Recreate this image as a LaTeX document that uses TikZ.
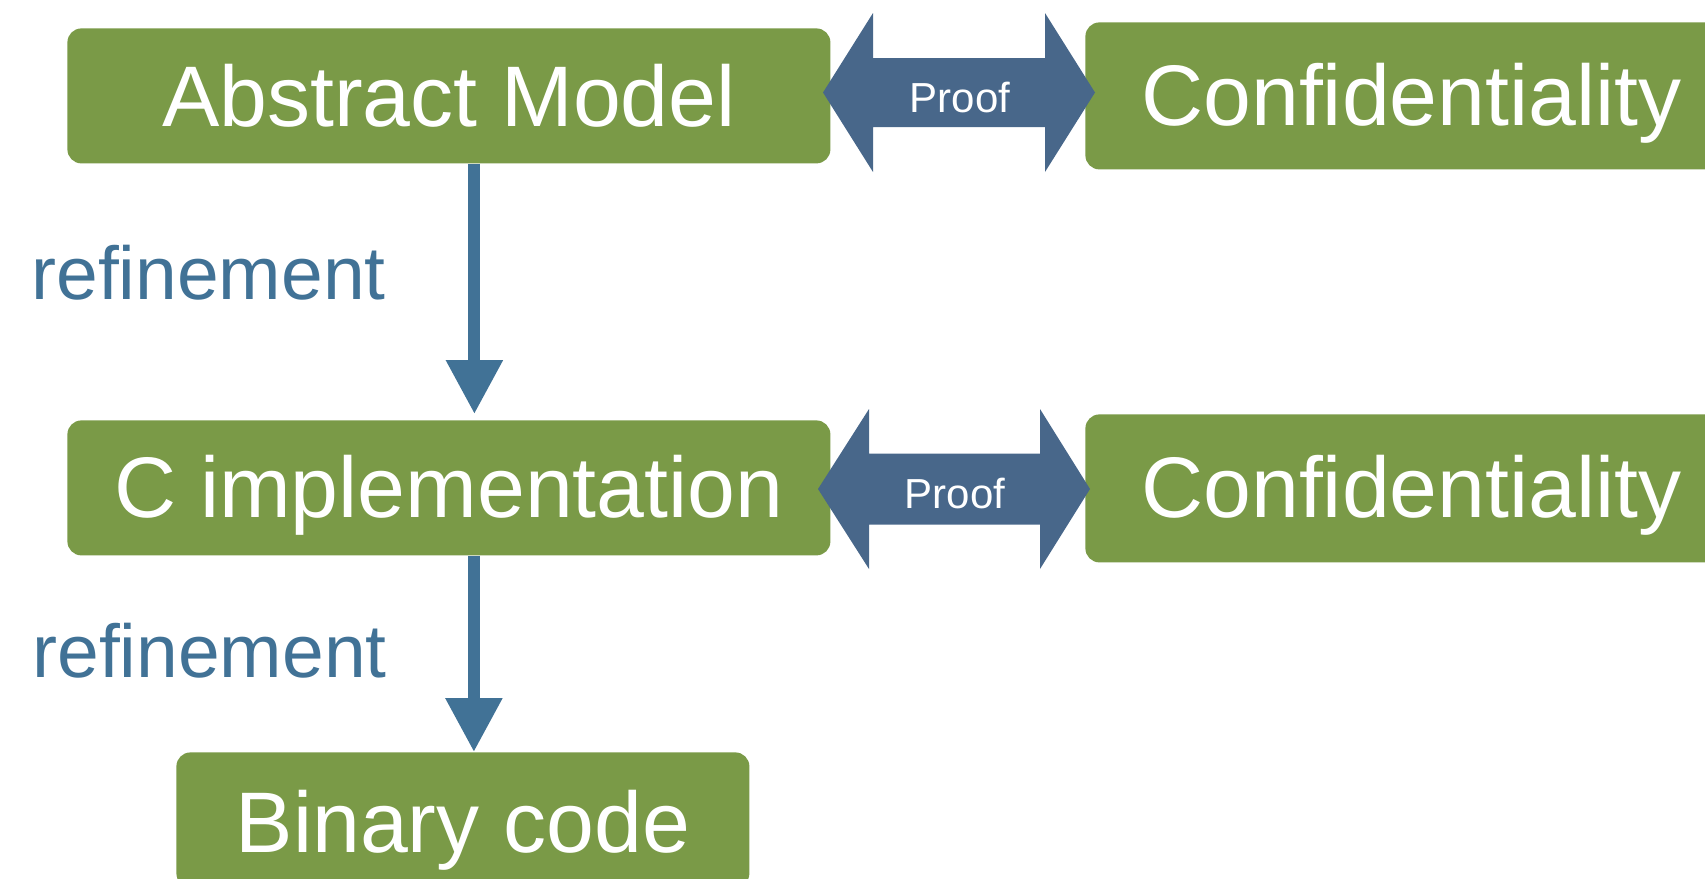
\documentclass[tikz,border=0pt]{standalone}
\usepackage{fontspec}
\setmainfont{Liberation Sans}
\usepackage{tikz}
\usetikzlibrary{calc}
\usetikzlibrary{arrows.meta}
\usetikzlibrary{positioning}

\definecolor{boxgreen}{RGB}{122,154,71}
\definecolor{proofblue}{RGB}{72,103,138}
\definecolor{refineblue}{RGB}{65,114,150}

\tikzstyle{block} = [rectangle, fill=boxgreen, text=white, rounded corners=7pt,
    inner sep=0pt, anchor=north west, font=\fontsize{43pt}{50pt}\selectfont]
\tikzstyle{refine} = [draw=refineblue, line width=6pt,
    -{Triangle[length=27pt,width=27pt]}]
\tikzstyle{reflabel} = [text=refineblue, inner sep=0pt, anchor=base west,
    font=\fontsize{37.5pt}{42pt}\selectfont]
\tikzstyle{prooflabel} = [text=white, inner sep=0pt, anchor=base,
    font=\fontsize{21pt}{25pt}\selectfont]

\begin{document}
\begin{tikzpicture}[x=0.5pt,y=-0.5pt]
    \useasboundingbox (0,0) rectangle (1705,879);

    \node[block, minimum width=381.5pt, text height=49pt, text depth=18.5pt] (model) at (67,28) {Abstract Model};
    \node[block, minimum width=381.5pt, text height=48.5pt, text depth=19pt] (cimpl) at (67,420) {C implementation};
    \node[block, minimum width=286.5pt, text height=50pt, text depth=17.5pt] (binary) at (176,752) {Binary code};

    \node[block, minimum width=326pt, text height=51.5pt, text depth=22pt] (conf1) at (1085,22) {Confidentiality};
    \node[block, minimum width=326pt, text height=51.5pt, text depth=22.5pt] (conf2) at (1085,414) {Confidentiality};

    % proof arrows
    \fill[proofblue, shift={(959,92.5)}] (-136,0) -- (-86,-79.5) -- (-86,-34.5) -- (86,-34.5) -- (86,-79.5)
        -- (136,0) -- (86,79.5) -- (86,34.5) -- (-86,34.5) -- (-86,79.5) -- cycle;
    \node[prooflabel] (proof1) at (960,112) {Proof};

    \fill[proofblue, shift={(954,489)}] (-136,0) -- (-85,-80) -- (-85,-35.5) -- (86,-35.5) -- (86,-80)
        -- (136,0) -- (86,80) -- (86,35.5) -- (-85,35.5) -- (-85,80) -- cycle;
    \node[prooflabel] (proof2) at (955,508) {Proof};

    % refinement arrows
    \draw[refine] ([xshift=12.75pt]model.south) -- ([xshift=12.75pt,yshift=3pt]cimpl.north);
    \node[reflabel] (ref1) at (31,299) {refinement};

    \draw[refine] ([xshift=12.5pt]cimpl.south) -- ([xshift=5.5pt]binary.north);
    \node[reflabel] (ref2) at (32,677) {refinement};
\end{tikzpicture}
\end{document}
